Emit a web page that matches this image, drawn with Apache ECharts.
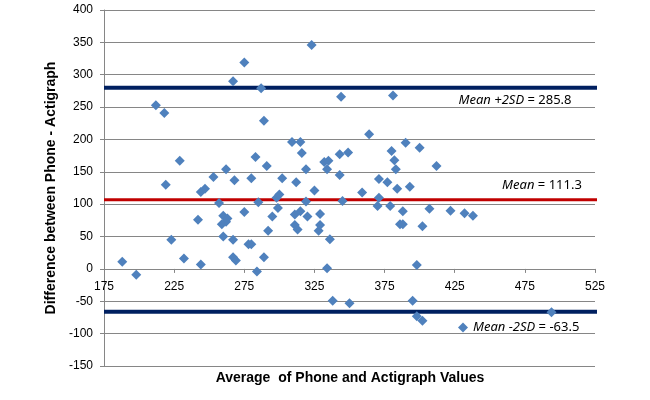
<!DOCTYPE html>
<html>
<head>
<meta charset="utf-8">
<script src="https://cdn.jsdelivr.net/npm/echarts@6/dist/echarts.min.js"></script>
<style>
  html, body { margin: 0; padding: 0; background: #fff; }
  #chart { width: 650px; height: 400px; }
</style>
</head>
<body>
<div id="chart"></div>
<script>
// average of phone and actigraph (x) / difference (y)
const avgValues = [
  188, 198, 212, 218, 219, 223, 229, 232, 242, 244, 244, 247, 253, 257,
  260, 263, 262, 259, 260, 262, 267, 267, 269, 268, 267, 275, 275, 278,
  280, 280, 283, 284, 285, 287, 289, 289, 291, 292, 295, 298, 300, 299,
  302, 309, 315, 316, 312, 311, 315, 311, 313, 319, 319, 320, 323, 325,
  328, 329, 329, 332, 335, 334, 336, 334, 338, 343, 349, 343, 344, 345,
  350, 359, 364, 370, 371, 371, 377, 379, 380, 381, 382, 383, 384, 386,
  388, 388, 390, 393, 395, 398, 398, 400, 402, 402, 407, 412, 422, 432,
  438, 494
];
const diffValues = [
  11, -9, 253, 241, 130, 45, 167, 16, 76, 7, 119, 124, 142, 102,
  82, 78, 73, 69, 50, 154, 45, 18, 13, 137, 290, 319, 88, 38,
  38, 140, 173, -4, 103, 279, 229, 18, 159, 59, 81, 110, 115, 94,
  140, 196, 196, 179, 134, 84, 89, 68, 61, 154, 104, 81, 346, 121,
  59, 68, 85, 165, 167, 154, 46, 1, -49, 177, 180, 145, 266, 105,
  -53, 118, 208, 97, 110, 139, 134, 97, 182, 268, 168, 154, 124, 69,
  69, 89, 195, 127, -49, 6, -73, 187, 66, -80, 93, 159, 90, 86,
  82, -67
];

// limit lines as drawn in the picture, and their labels
const limitValues = [280, 107, -66];
const limitLabels = ['Mean +2SD = 285.8', 'Mean = 111.3', 'Mean -2SD = -63.5'];
const lineFrom = 175;
const lineTo = 538.5;

const xTicks = { min: 175, max: 525, interval: 50 };
const yTicks = { min: -150, max: 400, interval: 50 };

const points = avgValues.map((x, i) => [x, diffValues[i]]);

const chart = echarts.init(document.getElementById('chart'));

const limitColors = ['#002060', '#c00000', '#002060'];
const limitWidths = [4, 3, 4];

const limitSeries = limitValues.map((v, i) => ({
  name: 'limit' + i,
  type: 'line',
  data: [[lineFrom, v], [lineTo, v]],
  symbol: 'none',
  clip: false,
  silent: true,
  z: 1,
  lineStyle: { color: limitColors[i], width: limitWidths[i] }
}));

const labelFont = 'Noto Sans';
const gridBottom = 34;

chart.setOption({
  animation: false,
  backgroundColor: '#fff',
  grid: { left: 104, right: 55, top: 10, bottom: gridBottom },
  legend: {
    data: [{ name: limitLabels[2], icon: 'diamond' }],
    left: 453,
    top: 316,
    itemWidth: 10,
    itemHeight: 10,
    formatter: '{i|Mean -2SD} = -63.5',
    textStyle: {
      fontFamily: labelFont,
      fontSize: 13,
      color: '#000',
      rich: { i: { fontStyle: 'italic', fontFamily: labelFont, fontSize: 13, color: '#000' } }
    }
  },
  xAxis: {
    type: 'value',
    min: xTicks.min,
    max: xTicks.max,
    interval: xTicks.interval,
    axisLine: { onZero: false, lineStyle: { color: '#868686' } },
    axisTick: { show: true, length: 4, lineStyle: { color: '#868686' } },
    axisLabel: { color: '#000', fontFamily: 'Liberation Sans', fontSize: 12, margin: 12 },
    splitLine: { show: false }
  },
  yAxis: {
    type: 'value',
    min: yTicks.min,
    max: yTicks.max,
    interval: yTicks.interval,
    name: 'Difference between Phone - Actigraph',
    nameLocation: 'middle',
    nameGap: 44,
    nameTextStyle: { fontFamily: 'Liberation Sans', fontSize: 14, fontWeight: 'bold', color: '#000' },
    axisLine: { show: true, lineStyle: { color: '#868686' } },
    axisTick: { show: true, length: 4, lineStyle: { color: '#868686' } },
    axisLabel: { color: '#000', fontFamily: 'Liberation Sans', fontSize: 12, margin: 11 },
    splitLine: { show: true, lineStyle: { color: '#868686', width: 1 } }
  },
  graphic: [
    {
      type: 'text', x: 350, y: 378,
      style: {
        text: 'Average  of Phone and Actigraph Values',
        font: 'bold 14px "Liberation Sans"', fill: '#000',
        textAlign: 'center', textVerticalAlign: 'middle'
      }
    },
    {
      type: 'text', x: 515, y: 100,
      style: {
        text: '{i|Mean +2SD} = 285.8',
        rich: { i: { fontStyle: 'italic', fontFamily: labelFont, fontSize: 13, fill: '#000' } },
        fontFamily: labelFont, fontSize: 13, fill: '#000',
        textAlign: 'center', textVerticalAlign: 'middle'
      }
    },
    {
      type: 'text', x: 542, y: 185,
      style: {
        text: '{i|Mean} = 111.3',
        rich: { i: { fontStyle: 'italic', fontFamily: labelFont, fontSize: 13, fill: '#000' } },
        fontFamily: labelFont, fontSize: 13, fill: '#000',
        textAlign: 'center', textVerticalAlign: 'middle'
      }
    }
  ],
  series: [
    ...limitSeries,
    {
      name: limitLabels[2],
      type: 'scatter',
      data: points,
      symbol: 'diamond',
      symbolSize: 10,
      z: 3,
      itemStyle: { color: '#4f81bd', opacity: 1 }
    }
  ]
});

// move the x axis up so it crosses the y axis at 0
const zeroPx = chart.convertToPixel({ yAxisIndex: 0 }, 0);
const bottomPx = chart.getHeight() - gridBottom;
chart.setOption({ xAxis: { offset: zeroPx - bottomPx } });
</script>
</body>
</html>
